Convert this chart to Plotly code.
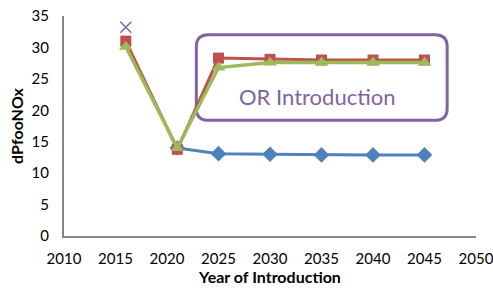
import plotly.graph_objects as go

years_blue = [2021, 2025, 2030, 2035, 2040, 2045]
blue_vals = [14.0, 13.1, 13.0, 12.9, 12.9, 12.9]
years_rg = [2016, 2021, 2025, 2030, 2035, 2040, 2045]
red_vals = [31.0, 13.8, 28.3, 28.1, 28.0, 28.0, 28.0]
green_vals = [30.1, 14.0, 26.8, 27.6, 27.6, 27.6, 27.6]
x_year = [2016]
x_vals = [33.2]
x_ticks = [2010, 2015, 2020, 2025, 2030, 2035, 2040, 2045, 2050]
y_ticks = [0, 5, 10, 15, 20, 25, 30, 35]

BLUE = "#4F81BD"; RED = "#C0504D"; GREEN = "#9BBB59"; PURPLE = "#8064A2"
FONT = "Lato"

fig = go.Figure()
fig.add_trace(go.Scatter(x=years_blue, y=blue_vals, mode="lines+markers",
                         line=dict(color=BLUE, width=3),
                         marker=dict(symbol="diamond", size=12, color=BLUE)))
fig.add_trace(go.Scatter(x=years_rg, y=red_vals, mode="lines+markers",
                         line=dict(color=RED, width=3),
                         marker=dict(symbol="square", size=11, color=RED)))
fig.add_trace(go.Scatter(x=years_rg, y=green_vals, mode="lines+markers",
                         line=dict(color=GREEN, width=3.5),
                         marker=dict(symbol="triangle-up", size=12, color=GREEN)))
fig.add_trace(go.Scatter(x=x_year, y=x_vals, mode="markers",
                         marker=dict(symbol="x-thin", size=11, color=PURPLE,
                                     line=dict(color=PURPLE, width=1.5))))

# rounded box
x0, x1, y0, y1 = 2022.85, 2047.2, 18.4, 32.0
rx, ry = 1.2, 1.9
path = (f"M {x0+rx},{y1} L {x1-rx},{y1} Q {x1},{y1} {x1},{y1-ry} "
        f"L {x1},{y0+ry} Q {x1},{y0} {x1-rx},{y0} L {x0+rx},{y0} "
        f"Q {x0},{y0} {x0},{y0+ry} L {x0},{y1-ry} Q {x0},{y1} {x0+rx},{y1} Z")
fig.add_shape(type="path", path=path, xref="x", yref="y",
              line=dict(color=PURPLE, width=3), layer="below")
fig.add_annotation(x=2034.6, y=22.2, text="OR Introduction", showarrow=False,
                   font=dict(family=FONT, size=22, color=PURPLE))

fig.update_layout(
    width=493, height=295, showlegend=False,
    margin=dict(l=64, r=17, t=16, b=59),
    plot_bgcolor="white", paper_bgcolor="white",
    font=dict(family=FONT, size=15, color="black"),
)
fig.update_xaxes(range=[2010, 2050], tickvals=x_ticks, showgrid=False, zeroline=False,
                 showline=True, linecolor="#868686", linewidth=2, ticks="",
                 ticklabelstandoff=8, automargin=False, ticklabeloverflow="allow",
                 title=dict(text="<b>Year of Introduction</b>", font=dict(size=16), standoff=4))
fig.update_yaxes(range=[0, 35], tickvals=y_ticks, showgrid=False, zeroline=False,
                 showline=True, linecolor="#868686", linewidth=2, ticks="",
                 ticklabelstandoff=10, automargin=False, ticklabeloverflow="allow",
                 title=dict(text="<b>dPfooNOx</b>", font=dict(size=16), standoff=4))

fig.write_html("out.html", config={"displayModeBar": False},
               post_script="document.body.style.margin='0px';document.body.style.overflow='hidden';")
